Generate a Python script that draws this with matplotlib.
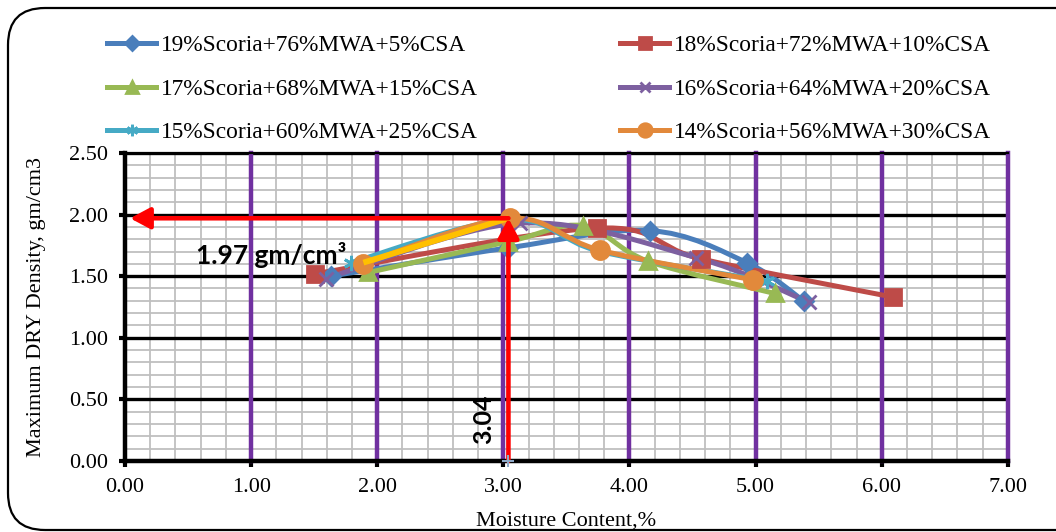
import matplotlib
matplotlib.use("Agg")
import matplotlib.pyplot as plt
from matplotlib.path import Path
from matplotlib.patches import PathPatch, FancyBboxPatch
from matplotlib.lines import Line2D

# Datos (contenido de humedad %, densidad seca máxima gm/cm3)
etiquetas = [
    "19%Scoria+76%MWA+5%CSA",
    "18%Scoria+72%MWA+10%CSA",
    "17%Scoria+68%MWA+15%CSA",
    "16%Scoria+64%MWA+20%CSA",
    "15%Scoria+60%MWA+25%CSA",
    "14%Scoria+56%MWA+30%CSA",
]
humedad_19 = [1.63, 3.04, 4.16, 4.93, 5.38]
densidad_19 = [1.50, 1.73, 1.87, 1.61, 1.30]
humedad_18 = [1.51, 3.74, 4.57, 6.09]
densidad_18 = [1.52, 1.89, 1.64, 1.33]
humedad_17 = [1.93, 3.04, 3.63, 4.15, 5.15]
densidad_17 = [1.53, 1.78, 1.91, 1.62, 1.36]
humedad_16 = [1.59, 3.13, 4.53, 5.42]
densidad_16 = [1.48, 1.93, 1.65, 1.29]
humedad_15 = [1.79, 3.05, 3.77, 5.09]
densidad_15 = [1.61, 1.96, 1.70, 1.46]
humedad_14 = [1.89, 3.05, 3.77, 4.98]
densidad_14 = [1.60, 1.97, 1.71, 1.47]

# Tramo resaltado en amarillo y punto óptimo
humedad_resaltada = [1.89, 3.04]
densidad_resaltada = [1.61, 1.97]
humedad_optima = 3.04
densidad_optima = 1.97

colores = ["#4A7EBB", "#BE4B48", "#98B954", "#7D60A0", "#46AAC5", "#E2893B"]
marcadores = ["D", "s", "^", "x", (6, 2, 0), "o"]
tamanos = [9, 11, 11, 10, 11, 13]

series = [
    (humedad_19, densidad_19),
    (humedad_18, densidad_18),
    (humedad_17, densidad_17),
    (humedad_16, densidad_16),
    (humedad_15, densidad_15),
    (humedad_14, densidad_14),
]


def curva_suave(xs, ys, t=1 / 6):
    """Camino Bezier que pasa por los puntos (linea suavizada tipo Excel)."""
    pts = list(zip(xs, ys))
    n = len(pts)
    verts = [pts[0]]
    codes = [Path.MOVETO]
    for i in range(n - 1):
        p0 = pts[i - 1] if i > 0 else pts[i]
        p1 = pts[i]
        p2 = pts[i + 1]
        p3 = pts[i + 2] if i + 2 < n else pts[i + 1]
        c1 = (p1[0] + (p2[0] - p0[0]) * t, p1[1] + (p2[1] - p0[1]) * t)
        c2 = (p2[0] - (p3[0] - p1[0]) * t, p2[1] - (p3[1] - p1[1]) * t)
        verts += [c1, c2, p2]
        codes += [Path.CURVE4] * 3
    return Path(verts, codes)


plt.rcParams["font.family"] = ["Liberation Serif", "DejaVu Serif"]

fig = plt.figure(figsize=(10.56, 5.32), dpi=100)
ax = fig.add_axes([0.1184, 0.1335, 0.836, 0.579])

# Marco redondeado exterior
marco = FancyBboxPatch((8 / 1056, 2 / 532), 1.05, 522 / 532,
                       boxstyle="round,pad=0,rounding_size=0.035",
                       transform=fig.transFigure, facecolor="none",
                       edgecolor="black", linewidth=1.6, clip_on=False,
                       mutation_aspect=1056 / 532)
fig.patches.append(marco)

ax.set_xlim(0, 7)
ax.set_ylim(0, 2.5)

marcas_x = [i * 1.0 for i in range(8)]
marcas_y = [i * 0.5 for i in range(6)]

# Cuadricula: menores grises, mayores negras (y) y moradas (x)
ax.set_xticks(marcas_x)
ax.set_yticks(marcas_y)
ax.set_xticks([i * 0.2 for i in range(36)], minor=True)
ax.set_yticks([i * 0.1 for i in range(26)], minor=True)
ax.grid(which="minor", color="#BFBFBF", linewidth=1.3)
ax.set_axisbelow(True)
for v in marcas_y[1:]:
    ax.axhline(v, color="black", linewidth=2.4, zorder=1.5)
for v in marcas_x[1:]:
    ax.axvline(v, color="#7030A0", linewidth=3.2, zorder=1.6, clip_on=False)

ax.set_xticklabels([f"{v:.2f}" for v in marcas_x])
ax.set_yticklabels([f"{v:.2f}" for v in marcas_y])
ax.tick_params(which="major", direction="out", length=4, width=3,
               labelsize=16, pad=8)
ax.tick_params(which="minor", length=0)

for lado in ["left", "bottom"]:
    ax.spines[lado].set_linewidth(3.2)
    ax.spines[lado].set_zorder(2)
ax.spines["top"].set_linewidth(1.6)
ax.spines["right"].set_visible(False)

# Series
manejadores = []
for (xs, ys), color, marca, ms, etiqueta in zip(series, colores, marcadores,
                                                 tamanos, etiquetas):
    ax.add_patch(PathPatch(curva_suave(xs, ys), facecolor="none",
                           edgecolor=color, linewidth=3.6, zorder=3,
                           capstyle="round", joinstyle="round"))
    ax.plot(xs, ys, linestyle="none", marker=marca, markersize=ms,
            color=color, markeredgewidth=2, zorder=4)
    manejadores.append(Line2D([], [], color=color, linewidth=3.6,
                              marker=marca, markersize=ms * 0.75,
                              markeredgewidth=2, label=etiqueta))

ax.add_patch(PathPatch(curva_suave(humedad_resaltada, densidad_resaltada),
                       facecolor="none", edgecolor="#FFC000", linewidth=4.2,
                       zorder=5))

# Flechas rojas hacia los ejes
estilo_flecha = "-|>,head_length=0.6,head_width=0.32"
ax.annotate("", xy=(0.04, densidad_optima),
            xytext=(humedad_optima, densidad_optima),
            arrowprops=dict(arrowstyle=estilo_flecha, color="red",
                            linewidth=3.3, mutation_scale=20,
                            shrinkA=0, shrinkB=0), zorder=6)
ax.annotate("", xy=(humedad_optima, densidad_optima),
            xytext=(humedad_optima, 0),
            arrowprops=dict(arrowstyle=estilo_flecha, color="red",
                            linewidth=3.3, mutation_scale=20,
                            shrinkA=0, shrinkB=0), zorder=6)
ax.plot([humedad_optima], [0], marker="+", color="#8EA9C8", markersize=9,
        markeredgewidth=1.5, zorder=7, clip_on=False)

ax.text(1.16, 1.67, f"{densidad_optima:.2f} gm/cm³", fontsize=19,
        fontweight="bold", family=["Lato", "DejaVu Sans"],
        ha="center", va="center", zorder=8)
ax.text(2.84, 0.34, f"{humedad_optima:.2f}", fontsize=18, fontweight="bold",
        family=["Lato", "DejaVu Sans"], rotation=90,
        ha="center", va="center", zorder=8)

ax.set_xlabel("Moisture Content,%", fontsize=16, labelpad=11)
ax.set_ylabel("Maximum DRY Density, gm/cm3", fontsize=16, labelpad=17)

# Leyenda en dos columnas arriba del grafico
orden = [0, 2, 4, 1, 3, 5]
fig.legend([manejadores[i] for i in orden], [etiquetas[i] for i in orden],
           loc="upper left", bbox_to_anchor=(107 / 1056, 1 - 35 / 532),
           ncol=2, frameon=False, fontsize=16.8, handlelength=2.1,
           handletextpad=0.2, columnspacing=6.1, labelspacing=0.95,
           borderpad=0, borderaxespad=0)

fig.savefig("out.png", dpi=100)
